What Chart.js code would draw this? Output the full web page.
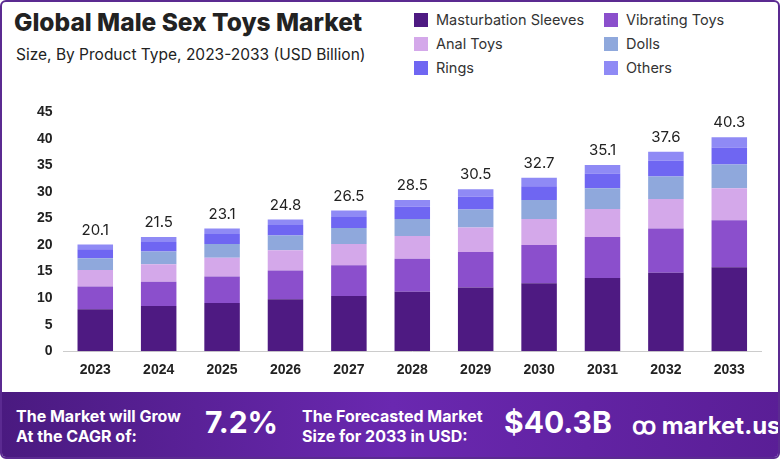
<!DOCTYPE html>
<html><head><meta charset="utf-8">
<script src="https://cdn.jsdelivr.net/npm/chart.js@4.4.1/dist/chart.umd.min.js"></script>
<style>
body{margin:0;width:780px;height:459px;overflow:hidden;font-family:Inter,"Open Sans",sans-serif;background:#fff;position:relative}
#frame{position:absolute;left:0;top:0;width:776px;height:455px;border:2px solid #5b2a91;border-radius:6px;overflow:hidden}
#title{position:absolute;left:12px;top:5px;font-size:24.5px;font-weight:800;color:#222}
#sub{position:absolute;left:14px;top:43px;font-size:15.5px;color:#222}
#legend{position:absolute;left:412px;top:9px;display:grid;grid-template-columns:190px 150px;row-gap:7px;font-size:14.5px;color:#333}
#legend span{display:inline-block;width:14px;height:14px;margin-right:8px;vertical-align:-2px}
#wrap{position:absolute;left:18px;top:99px;width:745px;height:281px}
#banner{position:absolute;left:0;top:390px;width:780px;height:69px;background:linear-gradient(90deg,#4a1a80,#6a28b0 50%,#5a1e96);color:#fff}
.b{position:absolute;font-weight:700}
</style></head><body>
<div id="frame">
<div id="title">Global Male Sex Toys Market</div>
<div id="sub">Size, By Product Type, 2023-2033 (USD Billion)</div>
<div id="legend"></div>
<div id="wrap"><canvas id="c"></canvas></div>
<div id="banner">
 <div class="b" style="left:14px;top:14px;font-size:16px;line-height:20px">The Market will Grow<br>At the CAGR of:</div>
 <div class="b" style="left:203px;top:12px;font-size:30px">7.2%</div>
 <div class="b" style="left:300px;top:14px;font-size:16px;line-height:20px">The Forecasted Market<br>Size for 2033 in USD:</div>
 <div class="b" style="left:502px;top:12px;font-size:30px">$40.3B</div>
 <div class="b" style="left:630px;top:16px;font-size:24px">ꝏ market.us</div>
</div>
</div>
<script>
const years = ['2023','2024','2025','2026','2027','2028','2029','2030','2031','2032','2033'];
const totals = [20.1,21.5,23.1,24.8,26.5,28.5,30.5,32.7,35.1,37.6,40.3];
const sleeves = [7.9,8.5,9.1,9.8,10.4,11.2,12.0,12.8,13.8,14.8,15.8];
const vibrating = [4.3,4.6,5.0,5.4,5.8,6.2,6.7,7.2,7.7,8.3,8.9];
const anal = [3.1,3.3,3.5,3.8,4.0,4.3,4.6,4.9,5.3,5.6,6.0];
const dolls = [2.2,2.4,2.6,2.8,3.0,3.2,3.4,3.6,3.9,4.2,4.5];
const rings = [1.7,1.8,1.9,2.0,2.1,2.3,2.4,2.6,2.8,3.0,3.2];
const others = [0.9,0.9,1.0,1.0,1.2,1.3,1.4,1.6,1.6,1.7,1.9];
const names = ['Masturbation Sleeves','Vibrating Toys','Anal Toys','Dolls','Rings','Others'];
const colors = ['#4e1a82','#8b4fcc','#d4a8ea','#8fa8dc','#6f66f2','#8f8af5'];
const series = [sleeves,vibrating,anal,dolls,rings,others];

document.getElementById('legend').innerHTML = names.map((n,i)=>'<div><span style="background:'+colors[i]+'"></span>'+n+'</div>').join('');

const totalLabels = {
  id:'totals',
  afterDatasetsDraw(chart){
    const ctx = chart.ctx, meta = chart.getDatasetMeta(5);
    ctx.save();
    ctx.font = '15px Inter, sans-serif';
    ctx.fillStyle = '#222';
    ctx.textAlign = 'center';
    meta.data.forEach((b,i)=>ctx.fillText(totals[i], b.x, chart.scales.y.getPixelForValue(totals[i]) - 10));
    ctx.restore();
  }
};

new Chart(document.getElementById('c'), {
  type:'bar',
  data:{labels:years, datasets:series.map((d,i)=>({label:names[i],data:d,backgroundColor:colors[i],barPercentage:0.56,categoryPercentage:1}))},
  options:{
    responsive:true, maintainAspectRatio:false, animation:false,
    layout:{padding:{top:8,left:14,right:4}},
    plugins:{legend:{display:false},tooltip:{enabled:false}},
    scales:{
      x:{stacked:true,grid:{display:false},border:{color:'#ccc'},ticks:{color:'#222',font:{size:14,weight:'bold'}}},
      y:{stacked:true,min:0,max:45,ticks:{stepSize:5,color:'#222',font:{size:14,weight:'bold'}},grid:{display:false},border:{display:false}}
    }
  },
  plugins:[totalLabels]
});
</script>
</body></html>
